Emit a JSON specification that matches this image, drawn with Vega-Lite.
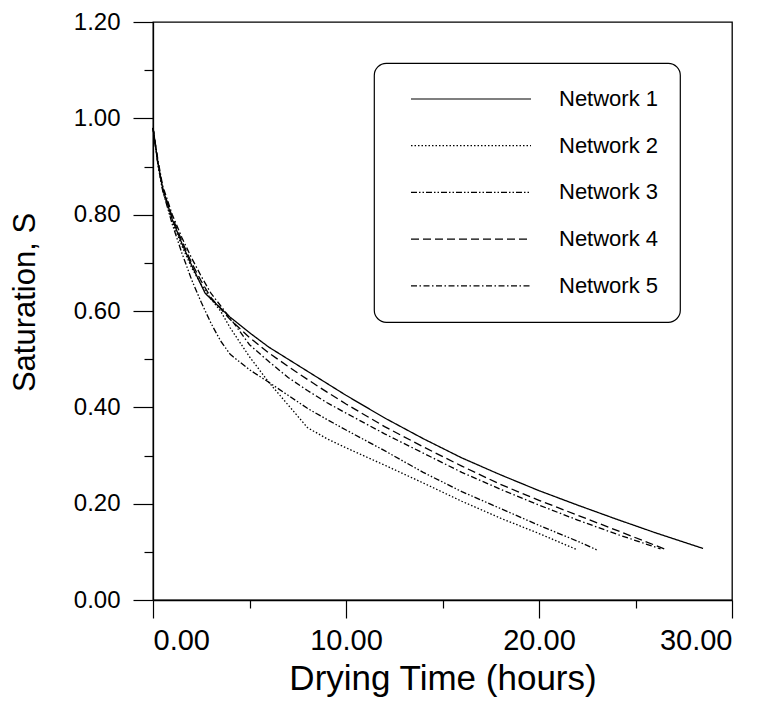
{
  "$schema": "https://vega.github.io/schema/vega-lite/v6.json",
  "autosize": "none",
  "padding": {"left": 153, "top": 22, "right": 40, "bottom": 101},
  "width": 579,
  "height": 578,
  "background": "white",
  "datasets": {
    "curves": [
      {"network": "Network 1", "t": 0, "S": 0.98}, {"network": "Network 1", "t": 0.25, "S": 0.91}, {"network": "Network 1", "t": 0.5, "S": 0.855}, {"network": "Network 1", "t": 1, "S": 0.79}, {"network": "Network 1", "t": 1.5, "S": 0.74}, {"network": "Network 1", "t": 2, "S": 0.695}, {"network": "Network 1", "t": 2.7, "S": 0.637}, {"network": "Network 1", "t": 3, "S": 0.625}, {"network": "Network 1", "t": 4, "S": 0.587}, {"network": "Network 1", "t": 5, "S": 0.555}, {"network": "Network 1", "t": 6, "S": 0.525}, {"network": "Network 1", "t": 7, "S": 0.5}, {"network": "Network 1", "t": 8, "S": 0.475}, {"network": "Network 1", "t": 9, "S": 0.45}, {"network": "Network 1", "t": 10, "S": 0.425}, {"network": "Network 1", "t": 12, "S": 0.378}, {"network": "Network 1", "t": 14, "S": 0.335}, {"network": "Network 1", "t": 16, "S": 0.295}, {"network": "Network 1", "t": 18, "S": 0.26}, {"network": "Network 1", "t": 20, "S": 0.227}, {"network": "Network 1", "t": 22, "S": 0.197}, {"network": "Network 1", "t": 24, "S": 0.168}, {"network": "Network 1", "t": 26, "S": 0.14}, {"network": "Network 1", "t": 28.5, "S": 0.107},
      {"network": "Network 2", "t": 0, "S": 0.98}, {"network": "Network 2", "t": 0.25, "S": 0.905}, {"network": "Network 2", "t": 0.5, "S": 0.85}, {"network": "Network 2", "t": 1, "S": 0.785}, {"network": "Network 2", "t": 1.5, "S": 0.735}, {"network": "Network 2", "t": 2, "S": 0.69}, {"network": "Network 2", "t": 2.5, "S": 0.655}, {"network": "Network 2", "t": 3, "S": 0.625}, {"network": "Network 2", "t": 3.5, "S": 0.6}, {"network": "Network 2", "t": 4, "S": 0.565}, {"network": "Network 2", "t": 5, "S": 0.505}, {"network": "Network 2", "t": 6, "S": 0.452}, {"network": "Network 2", "t": 7, "S": 0.405}, {"network": "Network 2", "t": 8, "S": 0.358}, {"network": "Network 2", "t": 9, "S": 0.335}, {"network": "Network 2", "t": 10, "S": 0.316}, {"network": "Network 2", "t": 12, "S": 0.28}, {"network": "Network 2", "t": 14, "S": 0.243}, {"network": "Network 2", "t": 16, "S": 0.205}, {"network": "Network 2", "t": 18, "S": 0.17}, {"network": "Network 2", "t": 20, "S": 0.138}, {"network": "Network 2", "t": 22, "S": 0.104},
      {"network": "Network 3", "t": 0, "S": 0.98}, {"network": "Network 3", "t": 0.25, "S": 0.905}, {"network": "Network 3", "t": 0.5, "S": 0.85}, {"network": "Network 3", "t": 1, "S": 0.78}, {"network": "Network 3", "t": 1.5, "S": 0.72}, {"network": "Network 3", "t": 2, "S": 0.665}, {"network": "Network 3", "t": 2.5, "S": 0.618}, {"network": "Network 3", "t": 3, "S": 0.575}, {"network": "Network 3", "t": 3.5, "S": 0.538}, {"network": "Network 3", "t": 4, "S": 0.51}, {"network": "Network 3", "t": 5, "S": 0.478}, {"network": "Network 3", "t": 6, "S": 0.452}, {"network": "Network 3", "t": 7, "S": 0.425}, {"network": "Network 3", "t": 8, "S": 0.398}, {"network": "Network 3", "t": 9, "S": 0.375}, {"network": "Network 3", "t": 10, "S": 0.353}, {"network": "Network 3", "t": 12, "S": 0.31}, {"network": "Network 3", "t": 14, "S": 0.265}, {"network": "Network 3", "t": 16, "S": 0.225}, {"network": "Network 3", "t": 18, "S": 0.19}, {"network": "Network 3", "t": 20, "S": 0.155}, {"network": "Network 3", "t": 22, "S": 0.122}, {"network": "Network 3", "t": 23, "S": 0.104},
      {"network": "Network 4", "t": 0, "S": 0.98}, {"network": "Network 4", "t": 0.25, "S": 0.91}, {"network": "Network 4", "t": 0.5, "S": 0.855}, {"network": "Network 4", "t": 1, "S": 0.795}, {"network": "Network 4", "t": 1.5, "S": 0.745}, {"network": "Network 4", "t": 2, "S": 0.7}, {"network": "Network 4", "t": 2.5, "S": 0.662}, {"network": "Network 4", "t": 3, "S": 0.628}, {"network": "Network 4", "t": 4, "S": 0.582}, {"network": "Network 4", "t": 5, "S": 0.545}, {"network": "Network 4", "t": 6, "S": 0.513}, {"network": "Network 4", "t": 7, "S": 0.485}, {"network": "Network 4", "t": 8, "S": 0.458}, {"network": "Network 4", "t": 9, "S": 0.432}, {"network": "Network 4", "t": 10, "S": 0.407}, {"network": "Network 4", "t": 12, "S": 0.36}, {"network": "Network 4", "t": 14, "S": 0.318}, {"network": "Network 4", "t": 16, "S": 0.278}, {"network": "Network 4", "t": 18, "S": 0.24}, {"network": "Network 4", "t": 20, "S": 0.207}, {"network": "Network 4", "t": 22, "S": 0.176}, {"network": "Network 4", "t": 24, "S": 0.145}, {"network": "Network 4", "t": 26.5, "S": 0.106},
      {"network": "Network 5", "t": 0, "S": 0.98}, {"network": "Network 5", "t": 0.25, "S": 0.915}, {"network": "Network 5", "t": 0.5, "S": 0.86}, {"network": "Network 5", "t": 1, "S": 0.8}, {"network": "Network 5", "t": 1.5, "S": 0.752}, {"network": "Network 5", "t": 2, "S": 0.71}, {"network": "Network 5", "t": 2.5, "S": 0.672}, {"network": "Network 5", "t": 3, "S": 0.637}, {"network": "Network 5", "t": 4, "S": 0.585}, {"network": "Network 5", "t": 5, "S": 0.53}, {"network": "Network 5", "t": 6, "S": 0.495}, {"network": "Network 5", "t": 7, "S": 0.462}, {"network": "Network 5", "t": 8, "S": 0.435}, {"network": "Network 5", "t": 9, "S": 0.41}, {"network": "Network 5", "t": 10, "S": 0.388}, {"network": "Network 5", "t": 12, "S": 0.345}, {"network": "Network 5", "t": 14, "S": 0.305}, {"network": "Network 5", "t": 16, "S": 0.265}, {"network": "Network 5", "t": 18, "S": 0.23}, {"network": "Network 5", "t": 20, "S": 0.197}, {"network": "Network 5", "t": 22, "S": 0.166}, {"network": "Network 5", "t": 24, "S": 0.137}, {"network": "Network 5", "t": 26.3, "S": 0.106}
    ]
  },
  "data": {"name": "curves"},
  "layer": [
    {
      "mark": {"type": "line", "color": "black", "strokeWidth": 1.3},
      "encoding": {
        "x": {
          "field": "t", "type": "quantitative",
          "scale": {"domain": [0, 30], "nice": false, "zero": false},
          "axis": {
            "values": [0, 10, 20, 30], "format": ".2f", "grid": false,
            "tickSize": 18, "labelPadding": 8, "labelFontSize": 29,
            "title": "Drying Time (hours)", "titleFontSize": 35,
            "titleBaseline": "alphabetic", "titleY": 89
          }
        },
        "y": {
          "field": "S", "type": "quantitative",
          "scale": {"domain": [0, 1.2], "nice": false, "zero": false},
          "axis": {
            "values": [0, 0.2, 0.4, 0.6, 0.8, 1.0, 1.2], "format": ".2f", "grid": false,
            "tickSize": 20, "labelPadding": 13, "labelFontSize": 24,
            "title": "Saturation, S", "titleFontSize": 31,
            "titleAngle": -90, "titleBaseline": "middle", "titleX": -128, "titleY": 280
          }
        },
        "strokeDash": {
          "field": "network", "type": "nominal",
          "scale": {
            "domain": ["Network 1", "Network 2", "Network 3", "Network 4", "Network 5"],
            "range": [[1, 0], [1.5, 2], [6, 2, 1.5, 2, 1.5, 2], [8, 4], [6, 2.5, 1.5, 2.5]]
          },
          "legend": {
            "orient": "none", "legendX": 221, "legendY": 41, "title": null,
            "symbolType": "stroke", "symbolSize": 14400, "symbolStrokeWidth": 1.2,
            "symbolStrokeColor": "black", "symbolOffset": 15,
            "labelOffset": 27, "labelFontSize": 22, "labelColor": "black",
            "clipHeight": 30, "rowPadding": 16.7, "padding": 21,
            "strokeColor": "black", "cornerRadius": 12
          }
        }
      }
    },
    {
      "mark": {"type": "point", "opacity": 0},
      "encoding": {
        "x": {
          "field": "t", "type": "quantitative",
          "axis": {"orient": "bottom", "values": [5, 15, 25], "tickSize": 8, "labels": false, "domain": false, "grid": false, "title": null}
        },
        "y": {
          "field": "S", "type": "quantitative",
          "axis": {"orient": "left", "values": [0.1, 0.3, 0.5, 0.7, 0.9, 1.1], "tickSize": 9, "labels": false, "domain": false, "grid": false, "title": null}
        }
      }
    }
  ],
  "resolve": {"axis": {"x": "independent", "y": "independent"}},
  "config": {
    "font": "Arial",
    "view": {"stroke": "black", "strokeWidth": 1.3},
    "axis": {
      "domainColor": "black", "domainWidth": 1.3, "tickColor": "black", "tickWidth": 1.2,
      "labelColor": "black", "titleColor": "black", "titleFontWeight": "normal",
      "labelFont": "Arial", "titleFont": "Arial"
    },
    "legend": {"strokeWidth": 1.2, "labelFont": "Arial"}
  }
}
